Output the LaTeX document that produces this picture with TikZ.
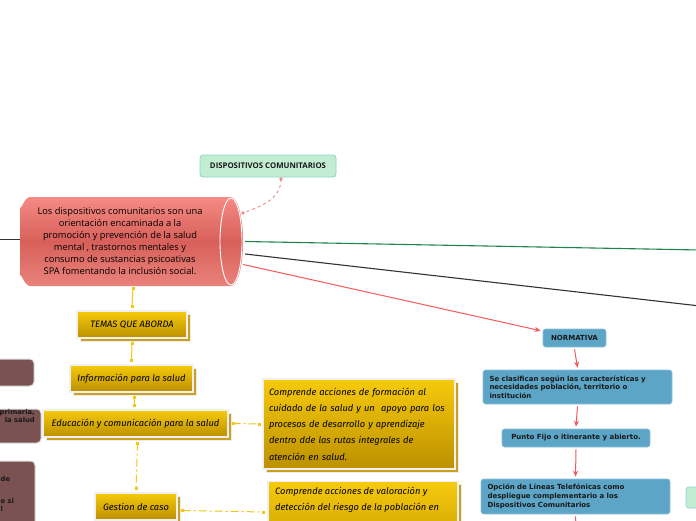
\documentclass[tikz,border=0pt]{standalone}
\usepackage{fontspec}
\setmainfont{Open Sans}
\newfontfamily\handf{Fira Sans}
\newfontfamily\blockf{DejaVu Sans}
\usetikzlibrary{arrows.meta}
\definecolor{gold1}{HTML}{F6CA0C}
\definecolor{gold2}{HTML}{BC9000}
\definecolor{goldsh}{HTML}{C9A020}
\definecolor{goldln}{HTML}{F5C518}
\definecolor{blueb}{HTML}{5CA5C6}
\definecolor{bluebd}{HTML}{8DC3DC}
\definecolor{redln}{HTML}{F05A5A}
\definecolor{greenln}{HTML}{1E8449}
\definecolor{darkln}{HTML}{333333}
\definecolor{brownb}{HTML}{7B5252}
\definecolor{dispfill}{HTML}{C3EDD3}
\definecolor{dispbd}{HTML}{8ED4CC}
\definecolor{cyl1}{HTML}{F58A84}
\definecolor{cyl2}{HTML}{D8605A}
\definecolor{cyl3}{HTML}{EA827C}
\definecolor{pinkln}{HTML}{F08A8A}
\tikzset{
  x=1pt,y=-1pt,
  goldbox/.style={rectangle, top color=gold1, bottom color=gold2, draw=white!88!gray, line width=1.2pt,
    inner sep=0pt, font=\handf\itshape\fontsize{9.3}{16.3}\selectfont, text=black,
    preaction={draw=white!85!gray, line width=1pt, fill=goldsh, transform canvas={shift={(3pt,-3pt)}}}},
  bluebox/.style={rectangle, rounded corners=2.5pt, fill=blueb, draw=bluebd, line width=0.6pt,
    font=\blockf\bfseries\fontsize{7}{8.6}\selectfont, text=black!90, inner sep=0pt},
  brownbox/.style={rectangle, rounded corners=4pt, fill=brownb, draw=white!75!gray, line width=1pt, inner sep=0pt},
  browntext/.style={font=\blockf\bfseries\fontsize{6.8}{8.6}\selectfont, text=black!90, inner sep=0pt},
  goldline/.style={draw=goldln, line width=1pt},
  gdash/.style={goldline, dash pattern=on 8pt off 3pt on 2pt off 3pt},
  redarrow/.style={draw=redln, line width=1pt, -{Stealth[length=6pt,width=5pt]}},
  gmark/.style={fill=goldln, inner sep=0pt, minimum size=3pt, rectangle},
}
\begin{document}
\begin{tikzpicture}
\useasboundingbox (0,0) rectangle (696,520);
\clip (0,0) rectangle (696,520);
\fill[white] (0,0) rectangle (696,520);

% cylinder
\path[top color=cyl1, bottom color=cyl3, middle color=cyl2]
  (231,197) -- (30,197) to[out=180,in=-90] (20,207) -- (20,276) to[out=90,in=180] (30,286) -- (231,286)
  arc[start angle=90, end angle=-90, x radius=12, y radius=44.5] -- cycle;
\draw[white, line width=0.9pt] (231,241.5) ellipse[x radius=11, y radius=43.5];
\node[minimum width=223pt, minimum height=89pt, inner sep=0pt] (cyl) at (131.5,241.5) {};
\node[align=center, font=\fontsize{9.3}{12}\selectfont, text=black] (cyltext) at (120,241.5)
  {Los dispositivos comunitarios son una\\ orientación encaminada a la\\ promoción y prevención de la salud\\ mental , trastornos mentales y\\ consumo de sustancias psicoativas\\ SPA fomentando la inclusión social.};

% dispositivos
\node[rectangle, rounded corners=3pt, fill=dispfill, draw=dispbd, line width=0.8pt,
  minimum width=136pt, minimum height=22pt, inner sep=0pt,
  font=\bfseries\fontsize{7.8}{9}\selectfont, text=black!90] (disp) at (268,166) {DISPOSITIVOS COMUNITARIOS};
\draw[pinkln, line width=0.9pt, dashed] (281,179) to[out=-90,in=20] (243,213);
\fill[pinkln] (281,179) circle (1.8pt);
\fill[pinkln] (243,213) circle (1.8pt);

% lines to right
\coordinate (lEnd) at (-5,239);
\coordinate (gEnd) at (700,250);
\coordinate (dEnd) at (700,306);
\draw[darkln, line width=1pt] (lEnd) -- (cyl.west |- 0,239);
\draw[greenln, line width=1.1pt] ([xshift=2pt]cyl.east) -- (gEnd);
\draw[darkln, line width=1.1pt] ([xshift=2pt,yshift=-12.5pt]cyl.east) -- (dEnd);

% blue column
\node[bluebox, minimum width=63pt, minimum height=18pt] (norm) at (574.5,338) {NORMATIVA};
\node[bluebox, minimum width=189pt, minimum height=34pt, align=left, text width=176pt] (clas) at (577.5,387)
  {Se clasifican según las características y\\ necesidades población, territorio o\\ institución};
\node[bluebox, minimum width=148pt, minimum height=18pt] (punto) at (576,438) {Punto Fijo o itinerante y abierto.};
\node[bluebox, minimum width=189pt, minimum height=35pt, align=left, text width=176pt] (opc) at (575.5,496.5)
  {Opción de Líneas Telefónicas como\\ despliegue complementario a los\\ Dispositivos Comunitarios};
\node[rectangle, rounded corners=3pt, fill=dispfill, draw=dispbd, line width=0.8pt,
  minimum width=40pt, minimum height=21pt, inner sep=0pt] (gright) at (706,497.5) {};
\coordinate (oEnd) at (576,525);
\draw[redarrow] ([yshift=-23pt]cyl.east) -- ([xshift=-2pt,yshift=-2pt]norm.north west);
\draw[redarrow] ([yshift=-2pt]norm.south) -- ([yshift=2pt]clas.north);
\draw[redarrow] ([yshift=-2pt]clas.south) -- ([yshift=2pt]punto.north);
\draw[redarrow] ([yshift=-2pt]punto.south) -- ([yshift=2pt]opc.north);
\draw[draw=redln, line width=1pt] ([yshift=-2pt]opc.south) -- (oEnd);

% brown boxes at left
\node[brownbox, minimum width=60pt, minimum height=27pt] (br1) at (4,372.5) {};
\node[brownbox, minimum width=66pt, minimum height=34pt] (br2) at (8,426) {};
\node[brownbox, minimum width=60pt, minimum height=80pt] (br3) at (5,501) {};
\node[browntext, align=right, anchor=north east] (br2t) at (35,409) {primaria,\\ la salud};
\node[browntext, anchor=west] (br3a) at (0.5,479) {de};
\node[browntext, anchor=north west, align=left] (br3b) at (0.5,498) {e si\\l};

% gold column
\node[goldbox, minimum width=110pt, minimum height=27pt] (temas) at (132,324.5) {TEMAS QUE ABORDA};
\node[goldbox, minimum width=123pt, minimum height=27pt] (info) at (131.5,378.5) {Información para la salud};
\node[goldbox, minimum width=185pt, minimum height=27pt] (edu) at (135.5,423.5) {Educación y comunicación para la salud};
\node[goldbox, minimum width=82pt, minimum height=27pt] (gest) at (136,506.5) {Gestion de caso};
\node[goldbox, minimum width=192pt, minimum height=90pt, align=left, text width=180pt] (desc1) at (359,424)
  {Comprende acciones de formación al\\ cuidado de la salud y un \ apoyo para los\\ procesos de desarrollo y aprendizaje\\ dentro dde las rutas integrales de\\ atención en salud.};
\node[goldbox, minimum width=190pt, minimum height=90pt, anchor=north] (desc2) at (363,481) {};
\node[font=\handf\itshape\fontsize{9.3}{16.3}\selectfont, text=black, align=left, anchor=north west, inner sep=0pt]
  (desc2t) at (275,487) {Comprende acciones de valoración y\\ detección del riesgo de la población en};

\draw[goldline] (133,287) -- ([yshift=3pt]temas.north);
\draw[goldline] ([yshift=-4pt]temas.south) -- ([yshift=3pt]info.north);
\draw[goldline] ([yshift=-4pt,xshift=3pt]info.south) -- ([yshift=3pt,xshift=3pt]info.south |- edu.north);
\draw[gdash] ([yshift=-5pt,xshift=2pt]edu.south) -- ([yshift=3pt]gest.north);
\draw[gdash] ([xshift=4pt]edu.east) -- ([xshift=-2pt]desc1.west);
\draw[gdash] ([xshift=5pt,yshift=-4pt]gest.east) -- ([xshift=-3pt]desc2.west |- 0,512);
\node[gmark] (m1) at (133,288) {};
\node[gmark] (m2) at ([yshift=4pt]temas.north) {};
\node[gmark] (m3) at ([yshift=-5pt]temas.south) {};
\node[gmark] (m4) at ([yshift=4pt]info.north) {};
\node[gmark] (m5) at ([yshift=-5pt,xshift=3pt]info.south) {};
\node[gmark] (m6) at ([yshift=4pt,xshift=3pt]info.south |- edu.north) {};
\node[gmark] (m7) at ([yshift=-6pt,xshift=2pt]edu.south) {};
\node[gmark] (m8) at ([yshift=4pt]gest.north) {};
\node[gmark] (m9) at ([xshift=5pt]edu.east) {};
\node[gmark] (m10) at ([xshift=-3pt]desc1.west) {};
\node[gmark] (m11) at ([xshift=5pt,yshift=-4pt]gest.east) {};
\node[gmark] (m12) at ([xshift=-4pt]desc2.west |- 0,512) {};
\end{tikzpicture}
\end{document}
